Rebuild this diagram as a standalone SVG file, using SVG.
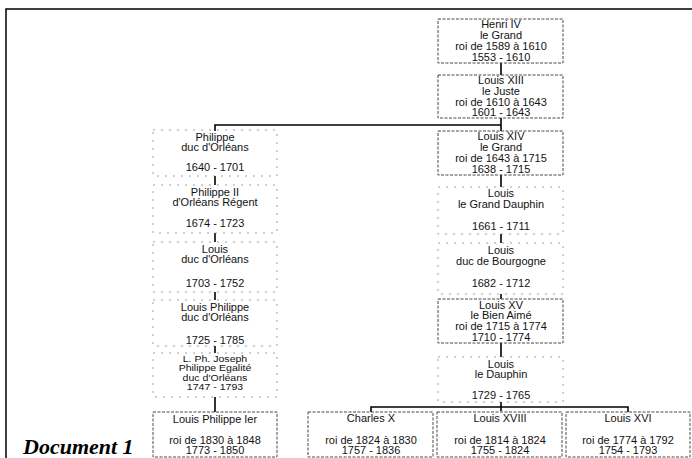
<svg xmlns="http://www.w3.org/2000/svg" width="692" height="458" viewBox="0 0 692 458">
<style>
  text { font-family: "Liberation Sans", Arial, sans-serif; font-size: 10px; fill: #111; text-anchor: middle; }
  .doc { font-family: "Liberation Serif", "Times New Roman", serif; font-size: 22px; font-weight: bold; font-style: italic; text-anchor: start; fill: #000; }
  .tight text { font-size: 9.6px; }
  .king { fill: none; stroke: #333; stroke-width: 0.9; stroke-dasharray: 3 1.5; }
  .noble { fill: none; stroke: #888; stroke-width: 0.8; stroke-dasharray: 2 6; }
  .frame { stroke: #000; stroke-width: 1.5; fill: none; }
  .conn { stroke: #000; stroke-width: 1.6; fill: none; }
</style>
<rect width="692" height="458" fill="#fff"/>
<path class="frame" d="M6,458 V9 H692"/>
<text class="doc" x="23" y="454">Document 1</text>

<g id="connectors">
  <path class="conn" d="M501,63 V75"/>
  <path class="conn" d="M501,118 V131"/>
  <path class="conn" d="M215,131 V125 H501"/>
  <path class="conn" d="M501,175 V187"/>
  <path class="conn" d="M501,234 V243"/>
  <path class="conn" d="M501,294 V299"/>
  <path class="conn" d="M501,343 V357"/>
  <path class="conn" d="M501,402 V411"/>
  <path class="conn" d="M371,412 V407 H628 V412"/>
  <path class="conn" d="M215,176 V185"/>
  <path class="conn" d="M215,233 V242"/>
  <path class="conn" d="M215,292 V300"/>
  <path class="conn" d="M215,346 V353"/>
  <path class="conn" d="M215,397 V412"/>
</g>

<g id="henri-iv">
  <rect class="king" x="438" y="19" width="125" height="44"/>
  <g transform="scale(1.1 1)">
    <text x="455.45" y="28">Henri IV</text>
    <text x="455.45" y="39">le Grand</text>
    <text x="455.45" y="50">roi de 1589 à 1610</text>
    <text x="455.45" y="61">1553 - 1610</text>
  </g>
</g>
<g id="louis-xiii">
  <rect class="king" x="438" y="75" width="125" height="43"/>
  <g transform="scale(1.1 1)">
    <text x="455.45" y="84">Louis XIII</text>
    <text x="455.45" y="95">le Juste</text>
    <text x="455.45" y="106">roi de 1610 à 1643</text>
    <text x="455.45" y="116">1601 - 1643</text>
  </g>
</g>
<g id="louis-xiv">
  <rect class="king" x="438" y="131" width="125" height="44"/>
  <g transform="scale(1.1 1)">
    <text x="455.45" y="140">Louis XIV</text>
    <text x="455.45" y="151">le Grand</text>
    <text x="455.45" y="162">roi de 1643 à 1715</text>
    <text x="455.45" y="173">1638 - 1715</text>
  </g>
</g>
<g id="grand-dauphin">
  <rect class="noble" x="438" y="187" width="125" height="47"/>
  <g transform="scale(1.1 1)">
    <text x="455.45" y="197">Louis</text>
    <text x="455.45" y="208">le Grand Dauphin</text>
    <text x="455.45" y="230">1661 - 1711</text>
  </g>
</g>
<g id="duc-bourgogne">
  <rect class="noble" x="438" y="243" width="125" height="51"/>
  <g transform="scale(1.1 1)">
    <text x="455.45" y="254">Louis</text>
    <text x="455.45" y="265">duc de Bourgogne</text>
    <text x="455.45" y="287">1682 - 1712</text>
  </g>
</g>
<g id="louis-xv">
  <rect class="king" x="438" y="299" width="125" height="44"/>
  <g transform="scale(1.1 1)">
    <text x="455.45" y="309">Louis XV</text>
    <text x="455.45" y="319">le Bien Aimé</text>
    <text x="455.45" y="330">roi de 1715 à 1774</text>
    <text x="455.45" y="341">1710 - 1774</text>
  </g>
</g>
<g id="le-dauphin">
  <rect class="noble" x="438" y="357" width="125" height="45"/>
  <g transform="scale(1.1 1)">
    <text x="455.45" y="368">Louis</text>
    <text x="455.45" y="378">le Dauphin</text>
    <text x="455.45" y="399">1729 - 1765</text>
  </g>
</g>

<g id="charles-x">
  <rect class="king" x="308" y="412" width="125" height="45"/>
  <g transform="scale(1.1 1)">
    <text x="337.27" y="422">Charles X</text>
    <text x="337.27" y="444">roi de 1824 à 1830</text>
    <text x="337.27" y="454">1757 - 1836</text>
  </g>
</g>
<g id="louis-xviii">
  <rect class="king" x="437" y="412" width="125" height="45"/>
  <g transform="scale(1.1 1)">
    <text x="454.55" y="422">Louis XVIII</text>
    <text x="454.55" y="444">roi de 1814 à 1824</text>
    <text x="454.55" y="454">1755 - 1824</text>
  </g>
</g>
<g id="louis-xvi">
  <rect class="king" x="566" y="412" width="124" height="45"/>
  <g transform="scale(1.1 1)">
    <text x="570.91" y="422">Louis XVI</text>
    <text x="570.91" y="444">roi de 1774 à 1792</text>
    <text x="570.91" y="454">1754 - 1793</text>
  </g>
</g>

<g id="philippe">
  <rect class="noble" x="153" y="130" width="124" height="46"/>
  <g transform="scale(1.1 1)">
    <text x="195.45" y="141">Philippe</text>
    <text x="195.45" y="151">duc d'Orléans</text>
    <text x="195.45" y="171">1640 - 1701</text>
  </g>
</g>
<g id="philippe-ii">
  <rect class="noble" x="153" y="185" width="124" height="48"/>
  <g transform="scale(1.1 1)">
    <text x="195.45" y="196">Philippe II</text>
    <text x="195.45" y="206">d'Orléans Régent</text>
    <text x="195.45" y="227">1674 - 1723</text>
  </g>
</g>
<g id="louis-orleans">
  <rect class="noble" x="153" y="242" width="124" height="50"/>
  <g transform="scale(1.1 1)">
    <text x="195.45" y="253">Louis</text>
    <text x="195.45" y="263">duc d'Orléans</text>
    <text x="195.45" y="287">1703 - 1752</text>
  </g>
</g>
<g id="louis-philippe">
  <rect class="noble" x="153" y="300" width="124" height="46"/>
  <g transform="scale(1.1 1)">
    <text x="195.45" y="311">Louis Philippe</text>
    <text x="195.45" y="321">duc d'Orléans</text>
    <text x="195.45" y="344">1725 - 1785</text>
  </g>
</g>
<g id="philippe-egalite" class="tight">
  <rect class="noble" x="153" y="353" width="124" height="44"/>
  <g transform="scale(1.1 1)">
    <text x="195.45" y="362">L. Ph. Joseph</text>
    <text x="195.45" y="371.5">Philippe Egalité</text>
    <text x="195.45" y="381">duc d'Orléans</text>
    <text x="195.45" y="390.5">1747 - 1793</text>
  </g>
</g>
<g id="louis-philippe-ier">
  <rect class="king" x="153" y="412" width="124" height="45"/>
  <g transform="scale(1.1 1)">
    <text x="195.45" y="423">Louis Philippe Ier</text>
    <text x="195.45" y="444">roi de 1830 à 1848</text>
    <text x="195.45" y="454">1773 - 1850</text>
  </g>
</g>
</svg>
